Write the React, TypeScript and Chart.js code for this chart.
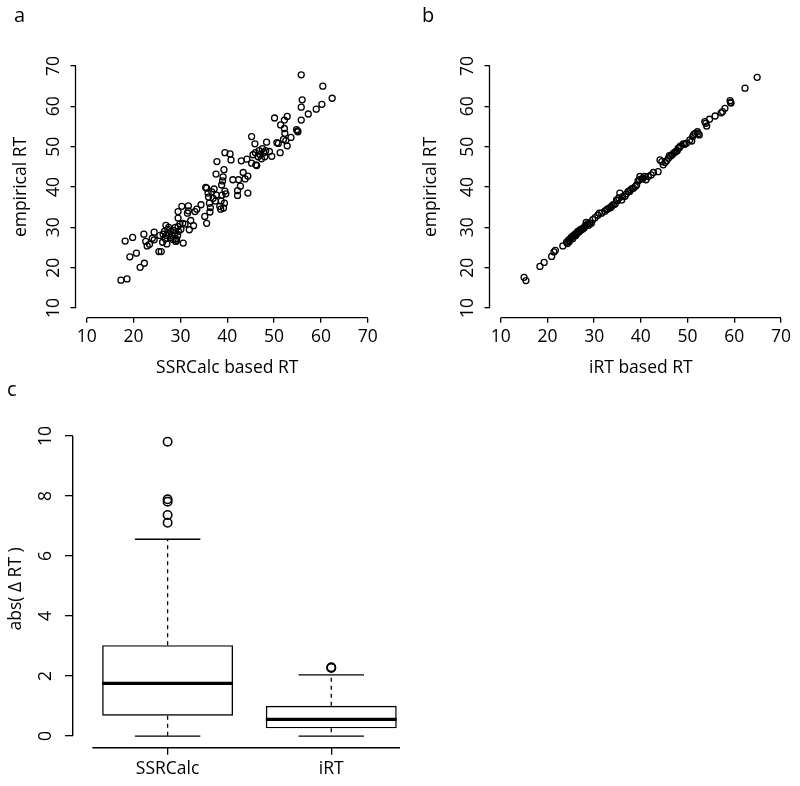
import React, { useEffect, useRef } from "react";
import { Chart, registerables } from "chart.js";

Chart.register(...registerables);

const FONT_FAMILY = "'Open Sans', 'DejaVu Sans', sans-serif";
const FONT_SIZE = 17.5;

// ---------- Panel a : SSRCalc based RT vs empirical RT ----------
const ssrcalcPredicted = [
  17.3, 18.6, 18.2, 19.8, 19.2, 20.6, 21.4, 22.3, 22.2, 22.6, 22.9, 23.4, 24.4, 24.4, 25.4, 25.9, 26.2, 25.6, 24.0,
  26.3, 26.6, 26.9, 27.1, 27.0, 27.3, 27.6, 27.8, 28.0, 28.2, 28.4, 28.6, 28.8, 29.0, 29.2, 29.4, 29.5, 29.6, 29.9, 30.1, 27.5, 28.9, 26.8, 29.0,
  29.5, 29.5, 30.3, 30.5, 30.6, 31.0, 31.5, 31.7, 31.7, 31.9, 32.2, 32.8, 33.1, 33.5, 34.4, 35.2, 35.6,
  35.4, 35.6, 35.9, 36.0, 36.2, 36.4, 36.3, 36.7, 37.0, 37.2, 37.5, 37.7, 37.6, 37.8, 38.4, 38.6, 38.7, 38.9, 38.8, 39.0, 39.1, 39.2, 39.3, 39.4, 39.5, 39.5, 39.7, 40.6, 40.8,
  41.2, 42.2, 42.2, 42.4, 42.8, 43.0, 43.4, 43.8, 44.2, 44.4, 44.4,
  45.2, 45.5, 45.2, 45.9, 46.0, 46.1, 46.3, 46.6, 46.8, 47.0, 47.3, 47.5, 47.8, 48.0, 48.4, 48.2, 49.0, 49.5,
  50.1, 50.6, 50.9, 51.3, 51.4, 52.0, 52.2, 52.2, 52.3, 52.5, 52.8, 52.8, 53.6, 54.8, 55.1, 55.0,
  55.8, 56.0, 55.8, 55.8, 57.3, 59.0, 60.2, 60.4, 62.4,
];
const ssrcalcEmpirical = [
  16.9, 17.2, 26.6, 27.5, 22.7, 23.6, 20.1, 21.1, 28.3, 26.5, 25.4, 25.8, 28.8, 26.9, 24.0, 24.0, 26.3, 28.0, 27.3,
  28.3, 29.0, 30.5, 25.9, 28.0, 29.5, 28.5, 27.5, 29.0, 28.0, 27.0, 29.2, 28.5, 27.2, 26.8, 28.0, 30.2, 29.0, 30.8, 29.5, 30.0, 30.0, 27.2, 26.5,
  33.9, 32.3, 35.2, 31.0, 26.1, 30.8, 33.5, 35.3, 34.1, 29.4, 31.7, 30.4, 33.9, 34.5, 35.6, 32.7, 31.0,
  39.9, 39.7, 38.5, 37.5, 36.0, 34.9, 33.8, 38.8, 37.2, 39.5, 36.5, 38.0, 43.2, 46.3, 35.2, 34.5, 36.5, 38.0, 40.5, 41.5, 42.5, 34.8, 44.3, 36.0, 39.0, 48.5, 38.3, 48.2, 46.7,
  41.8, 39.1, 37.9, 41.8, 40.2, 46.5, 43.6, 42.0, 46.9, 42.7, 38.5,
  52.5, 48.0, 45.9, 50.7, 48.5, 45.5, 45.3, 47.5, 49.0, 48.0, 47.0, 49.5, 48.5, 47.5, 51.1, 49.0, 48.8, 47.6,
  57.1, 51.0, 50.8, 48.5, 55.4, 51.8, 56.6, 54.5, 53.3, 51.5, 57.5, 50.2, 52.3, 54.2, 53.7, 53.9,
  67.8, 61.6, 59.8, 56.6, 58.1, 59.3, 60.5, 65.0, 62.0,
];

// ---------- Panel b : iRT based RT vs empirical RT ----------
const irtPredicted = [
  15.0, 15.4, 18.4, 19.3, 20.9, 21.4, 21.7, 23.3, 24.1, 24.5, 24.8, 25.2, 25.5, 25.9, 26.3, 26.6, 27.0, 27.3, 27.7, 28.0,
  28.3, 28.8, 29.1, 29.7, 31.1, 32.7, 33.3, 33.8, 34.5, 34.8, 35.5, 35.9, 36.6, 37.3, 37.8, 38.4, 39.1, 39.7, 39.8, 40.5,
  41.1, 41.6, 42.7, 43.7, 44.1, 44.8, 45.2, 45.9, 46.4, 47.0, 47.5, 48.0, 48.5, 49.1, 49.8, 50.5, 51.1, 51.6, 52.1, 52.5,
  53.7, 54.1, 54.7, 55.9, 57.5, 58.0, 59.1, 59.3, 62.3, 64.9,
  24.3, 24.7, 25.0, 25.4, 25.7, 26.0, 26.2, 26.5, 26.8, 27.1, 27.5, 27.9, 28.2, 28.6, 29.0, 29.4, 30.2, 30.8, 31.6, 32.3,
  32.9, 33.6, 34.1, 35.0, 35.3, 36.1, 36.9, 37.6, 38.1, 38.8, 39.4, 40.2, 40.8, 42.2, 44.5, 45.5, 46.1, 46.7, 47.3, 47.8,
  48.3, 49.4, 50.9, 51.3, 52.3, 53.9, 57.2, 59.2,
];
const irtEmpirical = [
  17.6, 16.8, 20.3, 21.3, 22.8, 23.9, 24.3, 25.4, 26.3, 26.8, 27.1, 27.6, 27.9, 28.3, 28.6, 28.8, 29.2, 29.4, 29.8, 30.2,
  31.2, 30.5, 30.9, 31.9, 33.5, 34.4, 34.8, 35.3, 35.8, 36.8, 38.5, 36.8, 37.7, 38.9, 39.3, 39.7, 40.5, 41.8, 42.6, 42.2,
  41.8, 42.6, 43.6, 43.8, 46.7, 45.5, 46.1, 47.1, 47.7, 48.4, 48.8, 49.6, 50.2, 50.7, 50.9, 51.7, 52.5, 53.3, 53.7, 52.9,
  56.2, 55.1, 56.8, 57.6, 58.7, 59.5, 61.4, 60.8, 64.5, 67.2,
  26.0, 26.5, 27.3, 27.2, 28.0, 27.9, 28.2, 29.0, 28.9, 29.5, 29.6, 29.9, 30.5, 30.8, 31.1, 31.0, 32.4, 33.0, 33.5, 34.0,
  34.6, 35.0, 35.6, 36.6, 37.3, 37.6, 38.3, 38.9, 39.6, 40.1, 41.5, 42.0, 42.6, 43.0, 46.3, 46.5, 47.8, 48.0, 48.6, 49.0,
  49.8, 50.6, 51.4, 53.0, 53.2, 55.8, 58.4, 61.0,
];

const rtTicks = [10, 20, 30, 40, 50, 60, 70];
const rtRange = [7.6, 72.4];

// ---------- Panel c : boxplot of abs(delta RT) ----------
const groups = ["SSRCalc", "iRT"];
const whiskerLow = [0, 0];
const quartile1 = [0.68, 0.26];
const medians = [1.76, 0.56];
const quartile3 = [3.03, 1.01];
const whiskerHigh = [6.56, 2.04];
const ssrcalcOutliers = [9.81, 7.89, 7.81, 7.37, 7.11];
const irtOutliers = [2.29, 2.27];
const deltaTicks = [0, 2, 4, 6, 8, 10];
const deltaRange = [-0.39, 10.2];
const groupRange = [0.42, 2.42];
const xAxisLineStart = 0.54;

const BOX_HALF = 0.4;
const CAP_HALF = 0.2;

const font = { family: FONT_FAMILY, size: FONT_SIZE };

const rAxisPlugin = {
  id: "rAxis",
  afterDraw(chart: any, _args: any, opts: any) {
    const ctx = chart.ctx;
    const { left, bottom } = chart.chartArea;
    ctx.save();
    ctx.strokeStyle = "#000";
    ctx.lineWidth = opts.lineWidth || 1.3;
    if (opts.x) {
      const s = chart.scales.x;
      ctx.beginPath();
      ctx.moveTo(s.getPixelForValue(opts.x[0]), bottom);
      ctx.lineTo(s.getPixelForValue(opts.x[1]), bottom);
      ctx.stroke();
    }
    if (opts.y) {
      const s = chart.scales.y;
      ctx.beginPath();
      ctx.moveTo(left, s.getPixelForValue(opts.y[0]));
      ctx.lineTo(left, s.getPixelForValue(opts.y[1]));
      ctx.stroke();
    }
    ctx.restore();
  },
};

type Geom = {
  top: number;
  right: number;
  yAxisW: number;
  xAxisH: number;
  yTickPad: number;
  yTitlePad: number;
  xTitlePad: number;
};

function scatterConfig(xs: number[], ys: number[], xTitle: string, yTitle: string, g: Geom): any {
  return {
    type: "scatter",
    data: {
      datasets: [
        {
          data: xs.map((x, i) => ({ x, y: ys[i] })),
          pointStyle: "circle",
          pointRadius: 3,
          pointBorderWidth: 1.3,
          pointBorderColor: "#000",
          pointBackgroundColor: "rgba(0,0,0,0)",
          borderColor: "#000",
          backgroundColor: "rgba(0,0,0,0)",
        },
      ],
    },
    options: {
      responsive: false,
      animation: false,
      events: [],
      layout: { autoPadding: false, padding: { left: 0, top: g.top, right: g.right, bottom: 0 } },
      plugins: {
        legend: { display: false },
        tooltip: { enabled: false },
        rAxis: {
          x: [rtTicks[0], rtTicks[rtTicks.length - 1]],
          y: [rtTicks[0], rtTicks[rtTicks.length - 1]],
          lineWidth: 1.3,
        },
      },
      scales: {
        x: {
          type: "linear",
          min: rtRange[0],
          max: rtRange[1],
          afterBuildTicks: (s: any) => {
            s.ticks = rtTicks.map((v) => ({ value: v }));
          },
          afterFit: (s: any) => {
            s.height = g.xAxisH;
          },
          border: { display: false },
          grid: { drawOnChartArea: false, drawTicks: true, tickLength: 5, color: "#000", lineWidth: 1.3 },
          ticks: { font, color: "#000", padding: 4, maxRotation: 0, autoSkip: false },
          title: { display: true, text: xTitle, font, color: "#000", padding: { top: 0, bottom: g.xTitlePad } },
        },
        y: {
          type: "linear",
          min: rtRange[0],
          max: rtRange[1],
          afterBuildTicks: (s: any) => {
            s.ticks = rtTicks.map((v) => ({ value: v }));
          },
          afterFit: (s: any) => {
            s.width = g.yAxisW;
          },
          border: { display: false },
          grid: { drawOnChartArea: false, drawTicks: true, tickLength: 5, color: "#000", lineWidth: 1.3 },
          ticks: {
            font,
            color: "#000",
            padding: g.yTickPad,
            minRotation: 90,
            maxRotation: 90,
            crossAlign: "center",
            autoSkip: false,
          },
          title: { display: true, text: yTitle, font, color: "#000", padding: { top: g.yTitlePad, bottom: 0 } },
        },
      },
    },
    plugins: [rAxisPlugin],
  };
}

function segment(points: { x: number; y: number }[], width: number, dash: number[] = []): any {
  return {
    type: "line",
    data: points,
    borderColor: "#000",
    borderWidth: width,
    borderDash: dash,
    borderCapStyle: "butt",
    pointRadius: 0,
    fill: false,
    tension: 0,
  };
}

function boxConfig(): any {
  const datasets: any[] = [];
  groups.forEach((_, i) => {
    const c = i + 1;
    datasets.push(segment([{ x: c - BOX_HALF, y: medians[i] }, { x: c + BOX_HALF, y: medians[i] }], 3.2));
    datasets.push(segment([{ x: c, y: quartile3[i] }, { x: c, y: whiskerHigh[i] }], 1.3, [4, 4]));
    datasets.push(segment([{ x: c, y: quartile1[i] }, { x: c, y: whiskerLow[i] }], 1.3, [4, 4]));
    datasets.push(segment([{ x: c - CAP_HALF, y: whiskerHigh[i] }, { x: c + CAP_HALF, y: whiskerHigh[i] }], 1.3));
    datasets.push(segment([{ x: c - CAP_HALF, y: whiskerLow[i] }, { x: c + CAP_HALF, y: whiskerLow[i] }], 1.3));
  });
  datasets.push({
    type: "bar",
    data: groups.map((_, i) => ({ x: i + 1, y: [quartile1[i], quartile3[i]] })),
    backgroundColor: "rgba(0,0,0,0)",
    borderColor: "#000",
    borderWidth: 1.4,
    borderSkipped: false,
    barPercentage: 0.8,
    categoryPercentage: 1,
  });
  datasets.push({
    type: "scatter",
    data: [
      ...ssrcalcOutliers.map((v) => ({ x: 1, y: v })),
      ...irtOutliers.map((v) => ({ x: 2, y: v })),
    ],
    pointStyle: "circle",
    pointRadius: 4.2,
    pointBorderWidth: 1.6,
    pointBorderColor: "#000",
    pointBackgroundColor: "rgba(0,0,0,0)",
    showLine: false,
  });

  return {
    type: "bar",
    data: { datasets },
    options: {
      responsive: false,
      animation: false,
      events: [],
      layout: { autoPadding: false, padding: { left: 0, top: 40, right: 0, bottom: 0 } },
      plugins: {
        legend: { display: false },
        tooltip: { enabled: false },
        rAxis: { x: [xAxisLineStart, groupRange[1]], y: [deltaTicks[0], deltaTicks[deltaTicks.length - 1]], lineWidth: 1.4 },
      },
      scales: {
        x: {
          type: "linear",
          offset: false,
          min: groupRange[0],
          max: groupRange[1],
          afterBuildTicks: (s: any) => {
            s.ticks = groups.map((_, i) => ({ value: i + 1 }));
          },
          afterFit: (s: any) => {
            s.height = 38.2;
          },
          border: { display: false },
          grid: { offset: false, drawOnChartArea: false, drawTicks: true, tickLength: 7, color: "#000", lineWidth: 1.3 },
          ticks: {
            font,
            color: "#000",
            padding: 4,
            maxRotation: 0,
            autoSkip: false,
            callback: (_v: any, index: number) => groups[index],
          },
        },
        y: {
          type: "linear",
          min: deltaRange[0],
          max: deltaRange[1],
          afterBuildTicks: (s: any) => {
            s.ticks = deltaTicks.map((v) => ({ value: v }));
          },
          afterFit: (s: any) => {
            s.width = 72.7;
          },
          border: { display: false },
          grid: { drawOnChartArea: false, drawTicks: true, tickLength: 7.7, color: "#000", lineWidth: 1.3 },
          ticks: {
            font,
            color: "#000",
            padding: 9,
            minRotation: 90,
            maxRotation: 90,
            crossAlign: "center",
            autoSkip: false,
          },
          title: { display: true, text: "abs( \u0394 RT )", font, color: "#000", padding: { top: 6, bottom: 0 } },
        },
      },
    },
    plugins: [rAxisPlugin],
  };
}

function ChartBox(props: { left: number; top: number; width: number; height: number; make: () => any }) {
  const ref = useRef<HTMLCanvasElement>(null);
  useEffect(() => {
    const chart = new Chart(ref.current as HTMLCanvasElement, props.make());
    return () => chart.destroy();
  }, []);
  return (
    <canvas
      ref={ref}
      width={props.width}
      height={props.height}
      style={{ position: "absolute", left: props.left, top: props.top, width: props.width, height: props.height }}
    />
  );
}

const letterStyle = (left: number, top: number): React.CSSProperties => ({
  position: "absolute",
  left,
  top,
  fontFamily: FONT_FAMILY,
  fontSize: 20,
  lineHeight: "20px",
  color: "#000",
});

export default function App() {
  return (
    <div style={{ position: "absolute", left: 0, top: 0, width: 800, height: 786, background: "#fff", overflow: "hidden" }}>
      <ChartBox
        left={0}
        top={0}
        width={400}
        height={390}
        make={() =>
          scatterConfig(ssrcalcPredicted, ssrcalcEmpirical, "SSRCalc based RT", "empirical RT", {
            top: 56.3,
            right: 21,
            yAxisW: 75.5,
            xAxisH: 72.3,
            yTickPad: 6.8,
            yTitlePad: 10.5,
            xTitlePad: 11.5,
          })
        }
      />
      <ChartBox
        left={400}
        top={0}
        width={400}
        height={390}
        make={() =>
          scatterConfig(irtPredicted, irtEmpirical, "iRT based RT", "empirical RT", {
            top: 56.3,
            right: 7.8,
            yAxisW: 89.5,
            xAxisH: 72.3,
            yTickPad: 6.5,
            yTitlePad: 20.3,
            xTitlePad: 11.5,
          })
        }
      />
      <ChartBox left={0} top={390} width={400} height={396} make={boxConfig} />
      <div style={letterStyle(14, 5)}>a</div>
      <div style={letterStyle(422, 5)}>b</div>
      <div style={letterStyle(7, 379)}>c</div>
    </div>
  );
}
